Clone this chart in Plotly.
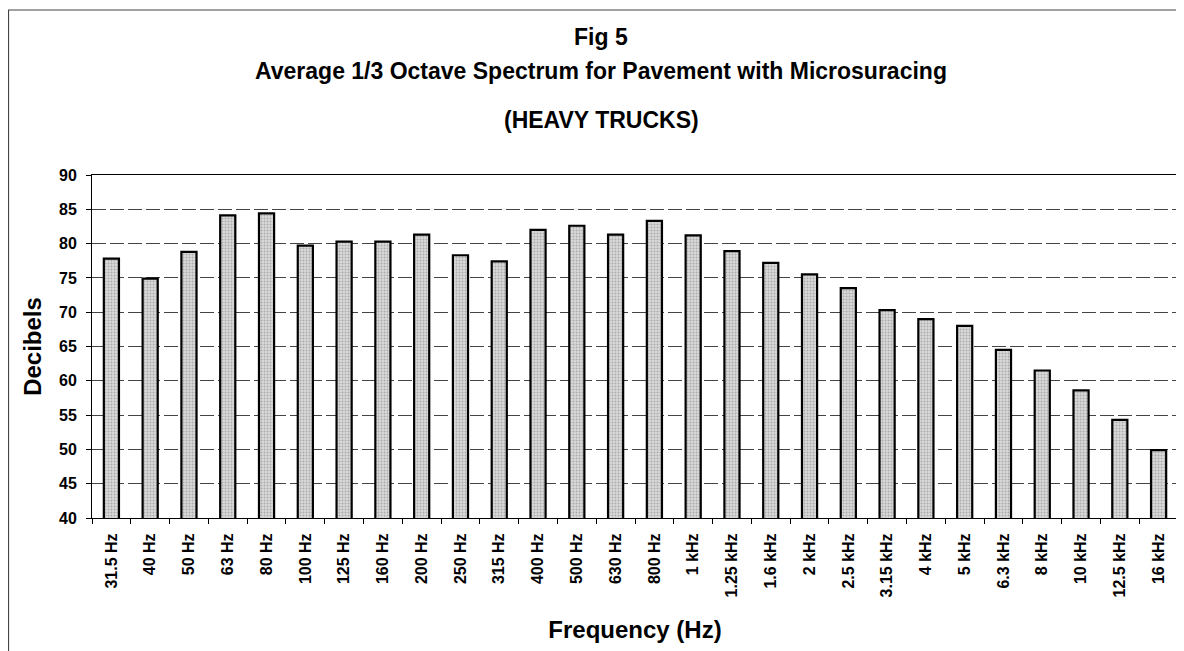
import plotly.graph_objects as go

categories = ["31.5 Hz", "40 Hz", "50 Hz", "63 Hz", "80 Hz", "100 Hz", "125 Hz", "160 Hz",
              "200 Hz", "250 Hz", "315 Hz", "400 Hz", "500 Hz", "630 Hz", "800 Hz", "1 kHz",
              "1.25 kHz", "1.6 kHz", "2 kHz", "2.5 kHz", "3.15 kHz", "4 kHz", "5 kHz",
              "6.3 kHz", "8 kHz", "10 kHz", "12.5 kHz", "16 kHz"]
decibels = [77.8, 74.9, 78.8, 84.1, 84.4, 79.7, 80.3, 80.3,
            81.3, 78.3, 77.4, 82.0, 82.6, 81.3, 83.3, 81.2,
            78.9, 77.2, 75.5, 73.5, 70.3, 69.0, 68.0,
            64.5, 61.5, 58.6, 54.3, 49.9]
y_ticks = [40, 45, 50, 55, 60, 65, 70, 75, 80, 85, 90]

OFF = 8  # page body margin
W, H = 1184 - OFF, 651 - OFF
ML, MT = 92 - OFF, 175 - OFF
MR = W - (1178 - OFF)
MB = H - (518 - OFF)
PW, PH = W - ML - MR, H - MT - MB


def px_x(p):
    return (p - OFF - ML) / PW


def px_y(p):
    return (H - MB - (p - OFF)) / PH


FONT = "Liberation Sans, Arial, sans-serif"

fig = go.Figure(go.Bar(
    x=categories,
    y=decibels,
    marker=dict(
        color="#c8c8c8",
        line=dict(color="black", width=2.2),
        pattern=dict(shape=".", fgcolor="#7a7a7a", bgcolor="#dadada", size=3, solidity=0.35),
    ),
    width=0.39,
))

fig.update_layout(
    width=W, height=H,
    margin=dict(l=ML, r=MR, t=MT, b=MB),
    paper_bgcolor="white",
    plot_bgcolor="white",
    showlegend=False,
    font=dict(family=FONT, color="black"),
)

fig.update_xaxes(
    type="category",
    tickangle=-90,
    tickfont=dict(size=16, family=FONT, weight="bold"),
    ticks="outside", ticklen=5, tickcolor="black", tickson="boundaries",
    ticklabelstandoff=8,
    showline=True, linecolor="black", linewidth=1, mirror=True,
    showgrid=False,
    title=dict(text="<b>Frequency (Hz)</b>", font=dict(size=24, family=FONT), standoff=24),
)
fig.update_yaxes(
    range=[40, 90],
    tickvals=y_ticks,
    tickfont=dict(size=16, family=FONT, weight="bold"),
    ticks="outside", ticklen=5, tickcolor="black",
    ticklabelstandoff=6,
    showline=True, linecolor="black", linewidth=1, mirror=True,
    showgrid=True, gridcolor="#444444", gridwidth=1, griddash="14px,4px",
    title=dict(text="<b>Decibels</b>", font=dict(size=24, family=FONT), standoff=10),
    zeroline=False,
)

titles = [("<b>Fig 5</b>", 37), ("<b>Average 1/3 Octave Spectrum for Pavement with Microsuracing</b>", 71),
          ("<b>(HEAVY TRUCKS)</b>", 120)]
for txt, ypix in titles:
    fig.add_annotation(text=txt, xref="paper", yref="paper", x=px_x(601), y=px_y(ypix),
                       xanchor="center", yanchor="middle", showarrow=False,
                       font=dict(size=23, family=FONT, color="black"))

# outer chart frame
fig.add_shape(type="rect", xref="paper", yref="paper",
              x0=px_x(OFF + 0.5), x1=px_x(1183.5), y0=px_y(660), y1=px_y(10),
              line=dict(color="#444444", width=1.2), fillcolor="rgba(0,0,0,0)", layer="below")

fig.write_html("out.html")
